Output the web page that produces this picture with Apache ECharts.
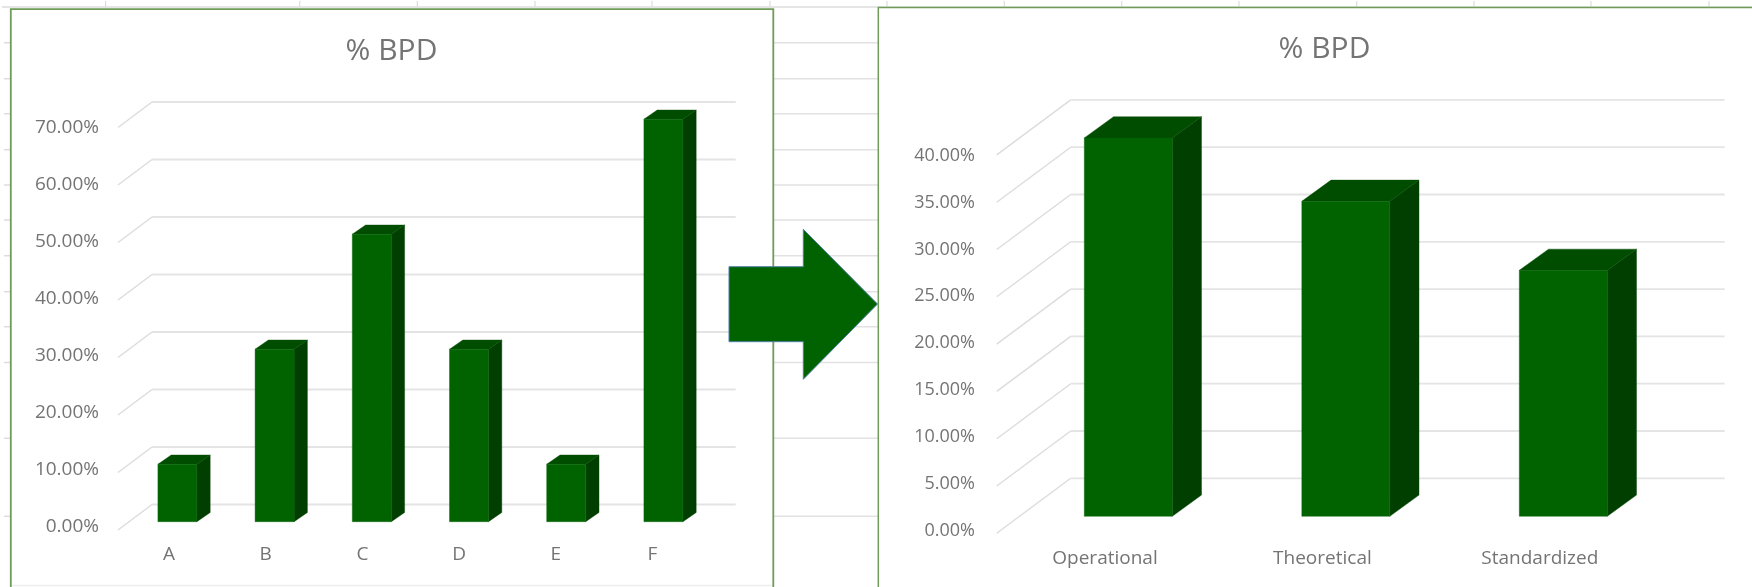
<!DOCTYPE html>
<html>
<head>
<meta charset="utf-8">
<style>html,body{margin:0;padding:0;background:#fff}#c{width:1752px;height:587px;filter:blur(0.7px)}</style>
<script src="https://cdn.jsdelivr.net/npm/echarts@6/dist/echarts.min.js"></script>
</head>
<body>
<div id="c"></div>
<script>
// Data
const titleText = '% BPD';
const leftCategories = ['A', 'B', 'C', 'D', 'E', 'F'];
const leftValues = [0.10, 0.30, 0.50, 0.30, 0.10, 0.70];
const leftTicks = [0, 0.1, 0.2, 0.3, 0.4, 0.5, 0.6, 0.7];
const rightCategories = ['Operational', 'Theoretical', 'Standardized'];
const rightValues = [0.40, 0.333, 0.26];
const rightTicks = [0, 0.05, 0.1, 0.15, 0.2, 0.25, 0.3, 0.35, 0.4];

// Worksheet furniture behind the charts
const sheetRows = [42.7, 78.7, 113.7, 149.7, 185, 220, 255.7, 291.7, 326.7, 362.5, 438.3, 516.3];
const sheetCols = [105.6, 299.7, 417.3, 535, 652, 770, 887, 1004.3, 1121.7, 1239, 1356.7, 1474, 1591, 1709];

const FRONT = '#006300', TOP = '#004d00', SIDE = '#003f00';
const TEXT = '#747474', GRID = '#e4e4e4', DIAG = '#dcdcdc', FRAME = '#6f9c58';
const FONT = '"Open Sans", sans-serif';

const pct = v => (v * 100).toFixed(2) + '%';

function barSeries(idx, values, barWidth, dx, dy) {
  return {
    type: 'custom', xAxisIndex: idx, yAxisIndex: idx, z: 5, clip: false, silent: true,
    data: values.map((v, i) => [i, v]),
    encode: { x: 0, y: 1 },
    renderItem(params, api) {
      const top = api.coord([api.value(0), api.value(1)]);
      const base = api.coord([api.value(0), 0]);
      const x0 = top[0] - barWidth / 2, x1 = top[0] + barWidth / 2;
      const yt = top[1], yb = base[1];
      return { type: 'group', children: [
        { type: 'polygon', shape: { points: [[x1, yt], [x1 + dx, yt - dy], [x1 + dx, yb - dy], [x1, yb]] }, style: { fill: SIDE, stroke: SIDE, lineWidth: 0.4 } },
        { type: 'polygon', shape: { points: [[x0, yt], [x0 + dx, yt - dy], [x1 + dx, yt - dy], [x1, yt]] }, style: { fill: TOP, stroke: TOP, lineWidth: 0.4 } },
        { type: 'rect', shape: { x: x0, y: yt, width: barWidth, height: yb - yt }, style: { fill: FRONT, stroke: FRONT, lineWidth: 0.4 } }
      ] };
    }
  };
}

function wallSeries(idx, ticks, frontX, frontY, backX, backY, endX) {
  return {
    type: 'custom', xAxisIndex: idx, yAxisIndex: idx, z: 2, clip: false, silent: true,
    data: ticks.map(t => [0, t]),
    encode: { x: 0, y: 1 },
    renderItem(params, api) {
      const cs = params.coordSys;
      const y = api.coord([0, api.value(1)])[1];
      return { type: 'group', children: [
        { type: 'line', shape: { x1: cs.x + frontX, y1: y + frontY, x2: cs.x + backX, y2: y + backY }, style: { stroke: DIAG, lineWidth: 1.4, fill: null } },
        { type: 'line', shape: { x1: cs.x + backX, y1: y + backY, x2: cs.x + cs.width + endX, y2: y + backY }, style: { stroke: GRID, lineWidth: 1.8, fill: null } }
      ] };
    }
  };
}

function plainAxisX(gridIndex, data, show, margin) {
  return {
    type: 'category', gridIndex, data, show,
    axisLine: { show: false }, axisTick: { show: false }, splitLine: { show: false },
    axisLabel: { color: TEXT, fontFamily: FONT, fontSize: 19, margin, verticalAlign: 'middle', interval: 0 }
  };
}
function plainAxisY(gridIndex, max, interval, show, margin, size) {
  return {
    type: 'value', gridIndex, min: 0, max, interval, show,
    axisLine: { show: false }, axisTick: { show: false }, splitLine: { show: false },
    axisLabel: { color: TEXT, fontFamily: FONT, fontSize: size, margin, formatter: pct }
  };
}

const sheetGraphics = [];
sheetGraphics.push({ type: 'line', z: 0, shape: { x1: 2, y1: 7, x2: 1752, y2: 7 }, style: { stroke: '#dcdcdc', lineWidth: 1.5 } });
sheetCols.forEach(x => sheetGraphics.push({ type: 'line', z: 0, shape: { x1: x, y1: 1, x2: x, y2: 7 }, style: { stroke: '#dcdcdc', lineWidth: 1.2 } }));
sheetRows.forEach(y => {
  sheetGraphics.push({ type: 'line', z: 0, shape: { x1: 4, y1: y, x2: 10, y2: y }, style: { stroke: '#dcdcdc', lineWidth: 1.5 } });
  sheetGraphics.push({ type: 'line', z: 0, shape: { x1: 773, y1: y, x2: 878, y2: y }, style: { stroke: '#e2e2e2', lineWidth: 1.6 } });
});
const frames = [
  { type: 'polyline', z: 1, shape: { points: [[10.8, 587], [10.8, 9.2], [773.3, 9.2], [773.3, 587]] }, style: { stroke: FRAME, lineWidth: 1.8, fill: null } },
  { type: 'line', z: 1, shape: { x1: 12, y1: 585.5, x2: 772, y2: 585.5 }, style: { stroke: '#eeeeee', lineWidth: 1.5 } },
  { type: 'polyline', z: 1, shape: { points: [[878.3, 587], [878.3, 7.6], [1752, 7.6]] }, style: { stroke: FRAME, lineWidth: 1.5, fill: null } }
];
const arrow = { type: 'polygon', z: 20, shape: { points: [[729, 266.7], [803.3, 266.7], [803.3, 229.3], [877.5, 304], [803.3, 379.3], [803.3, 341.7], [729, 341.7]] }, style: { fill: FRONT, stroke: '#4f7fa8', lineWidth: 1 } };

const option = {
  animation: false,
  backgroundColor: '#fff',
  title: [
    { text: titleText, left: 386.5, top: 46, textAlign: 'center', textVerticalAlign: 'middle', textStyle: { color: TEXT, fontFamily: FONT, fontSize: 30, fontWeight: 'normal' } },
    { text: titleText, left: 1319.5, top: 44, textAlign: 'center', textVerticalAlign: 'middle', textStyle: { color: TEXT, fontFamily: FONT, fontSize: 30, fontWeight: 'normal' } }
  ],
  grid: [
    { left: 128.8, top: 119.2, width: 583.2, height: 402.5 },
    { left: 1019.55, top: 137.9, width: 652.5, height: 378.4 },
    { left: 120.65, top: 127.3, width: 580.2, height: 399.4 },
    { left: 996.3, top: 155.7, width: 652.2, height: 375 }
  ],
  xAxis: [
    plainAxisX(0, leftCategories, false, 0),
    plainAxisX(1, rightCategories, false, 0),
    plainAxisX(2, leftCategories, true, 28),
    plainAxisX(3, rightCategories, true, 27.5)
  ],
  yAxis: [
    plainAxisY(0, 0.7, 0.1, false, 0, 18),
    plainAxisY(1, 0.4, 0.05, false, 0, 18),
    plainAxisY(2, 0.7, 0.1, true, 21.6, 19),
    plainAxisY(3, 0.4, 0.05, true, 21.3, 18)
  ],
  series: [
    wallSeries(0, leftTicks, -10.8, 8.3, 23.2, -17.2, 23.7),
    wallSeries(1, rightTicks, -22.85, 17, 51.15, -38, 52.65),
    barSeries(0, leftValues, 39, 13.3, 9.2),
    barSeries(1, rightValues, 88, 29.2, 21.2)
  ],
  graphic: { elements: [...sheetGraphics, ...frames, arrow] }
};
const chart = echarts.init(document.getElementById('c'), null, { renderer: 'canvas' });
chart.setOption(option);
</script>
</body>
</html>
